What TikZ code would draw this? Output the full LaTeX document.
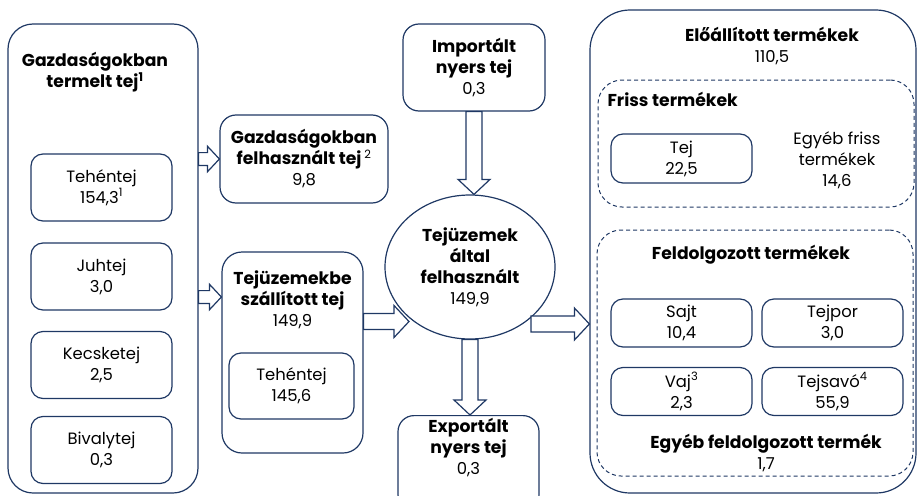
\documentclass[tikz,border=0pt]{standalone}
\usepackage{fontspec}
\setmainfont{Poppins}
\usetikzlibrary{calc,shapes.geometric}
\definecolor{navy}{HTML}{1F3864}

\newcommand{\hd}[1]{{\fontsize{17.2}{21}\selectfont\bfseries #1}}
\newcommand{\flowarrow}[3][1]{%
  \coordinate (fa-h) at ($(#3)!#1*15pt!(#2)$);
  \draw[flow] ($(#2)!#1*8pt!90:(#3)$) -- ($(fa-h)!#1*8pt!-90:(#2)$)
    -- ($(fa-h)!#1*16pt!-90:(#2)$) -- (#3) -- ($(fa-h)!#1*16pt!90:(#2)$)
    -- ($(fa-h)!#1*8pt!90:(#2)$) -- ($(#2)!#1*8pt!-90:(#3)$) -- cycle;}

\begin{document}
\begin{tikzpicture}[x=1pt,y=-1pt,
  font=\fontsize{16.4}{21}\selectfont,
  box/.style={draw=navy, line width=1.2pt, rounded corners=12pt, align=center, inner sep=0pt},
  frame/.style={draw=navy, line width=1.2pt, rounded corners=#1, inner sep=0pt},
  group/.style={draw=navy, line width=1pt, dash pattern=on 4pt off 3pt, rounded corners=24pt, inner sep=0pt},
  flow/.style={draw=navy, line width=1.2pt, fill=white, line join=miter},
  head/.style={align=center}]
  \useasboundingbox (0,0) rectangle (917,495);
  \clip (0,0) rectangle (917,495);

  \node[frame=25pt, minimum width=190pt, minimum height=469pt] (farm) at (103,258.5) {};
  \node[head] (farmt) at (95,72) {\hd{Gazdaságokban}\\\hd{termelt tej\textsuperscript{1}}};
  \node[box, minimum width=141pt, minimum height=67pt] (tehen) at (101.5,187.5) {Tehéntej\\154,3\textsuperscript{1}};
  \node[box, minimum width=141pt, minimum height=67pt] (juh) at (101.5,276.5) {Juhtej\\3,0};
  \node[box, minimum width=141pt, minimum height=67pt] (kecske) at (101.5,365) {Kecsketej\\2,5};
  \node[box, minimum width=141pt, minimum height=67pt] (bivaly) at (101.5,450) {Bivalytej\\0,3};

  \node[box, rounded corners=16pt, minimum width=168pt, minimum height=88pt] (felh) at (304,159)
    {\hd{Gazdaságokban}\\\hd{felhasznált tej}\,\textsuperscript{2}\\9,8};
  \node[frame=20pt, minimum width=141pt, minimum height=201pt] (szall) at (292.5,352.5) {};
  \node[head] (szallt) at (292.5,299.5) {\hd{Tejüzemekbe}\\\hd{szállított tej}\\149,9};
  \node[box, minimum width=125pt, minimum height=66pt] (szteh) at (291.5,386) {Tehéntej\\145,6};

  \node[box, rounded corners=16pt, minimum width=142pt, minimum height=87pt] (imp) at (474,67.5)
    {\hd{Importált}\\\hd{nyers tej}\\0,3};
  \node[ellipse, draw=navy, line width=1.2pt, minimum width=170pt, minimum height=144pt, align=center, inner sep=0pt] (tej) at (470,267)
    {\hd{Tejüzemek}\\\hd{által}\\\hd{felhasznált}\\149,9};
  \node[box, rounded corners=16pt, minimum width=141pt, minimum height=95pt, anchor=north] (exp) at (468.5,415)
    {\hd{Exportált}\\\hd{nyers tej}\\0,3\\[12pt]};

  \node[frame=40pt, minimum width=326pt, minimum height=483pt] (prod) at (753,251.5) {};
  \node[head] (prodt) at (772,46) {\hd{Előállított termékek}\\110,5};
  \node[group, minimum width=316pt, minimum height=127pt] (friss) at (756,143.5) {};
  \node[head, anchor=west] (frisst) at (604,99) {\hd{Friss termékek}};
  \node[box, minimum width=141pt, minimum height=49pt] (tejb) at (681.5,158.5) {Tej\\22,5};
  \node[align=center] (egyfr) at (837,160) {Egyéb friss\\termékek\\14,6};
  \node[group, minimum width=316pt, minimum height=246pt] (feld) at (755,353) {};
  \node[head] (feldt) at (751,255) {\hd{Feldolgozott termékek}};
  \node[box, minimum width=141pt, minimum height=48pt] (sajt) at (681.5,323) {Sajt\\10,4};
  \node[box, minimum width=141pt, minimum height=48pt] (tejpor) at (832.5,323) {Tejpor\\3,0};
  \node[box, minimum width=141pt, minimum height=48pt] (vaj) at (681.5,391.5) {Vaj\textsuperscript{3}\\2,3};
  \node[box, minimum width=141pt, minimum height=48pt] (savo) at (832.5,391.5) {Tejsavó\textsuperscript{4}\\55,9};
  \node[head] (egyfeld) at (766,453) {\hd{Egyéb feldolgozott termék}\\1,7};

  \coordinate (tin) at (409,321.5);
  \coordinate (tout) at (531,324);
  \flowarrow[0.8]{farm.east |- felh}{felh.west}
  \flowarrow[0.8]{farm.east |- 0,297}{szall.west |- 0,297}
  \flowarrow{szall.east |- tin}{tin}
  \flowarrow{imp.south}{imp.south |- tej.north}
  \flowarrow{tej.south}{tej.south |- exp.north}
  \flowarrow{tout}{prod.west |- tout}
\end{tikzpicture}
\end{document}
